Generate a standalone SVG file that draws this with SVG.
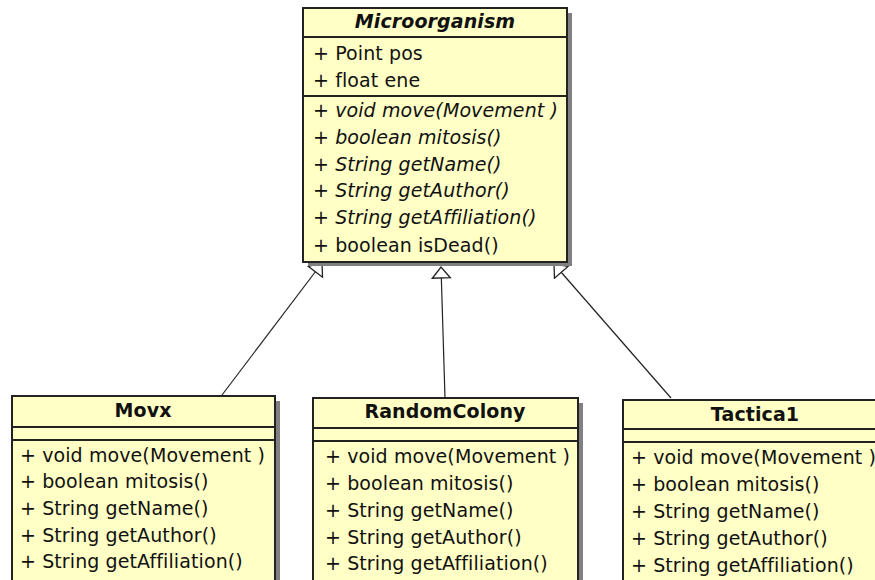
<svg xmlns="http://www.w3.org/2000/svg" width="875" height="580" viewBox="0 0 875 580">
<style>
.box{fill:#FFFFC6;stroke:#222;stroke-width:2}
.sh{fill:#808080}
.div{stroke:#222;stroke-width:2}
text{font-family:"DejaVu Sans","Liberation Sans",sans-serif;font-size:19px;letter-spacing:0.1px;fill:#111}
.t{font-weight:bold;text-anchor:middle}
.it{font-style:italic}
.conn{stroke:#222;stroke-width:1.2;fill:none}
</style>
<defs>
<marker id="gen" markerWidth="20" markerHeight="22" refX="12" refY="10" orient="auto" markerUnits="userSpaceOnUse" viewBox="0 0 20 22">
<path d="M1,1 L12,10 L1,19 Z" fill="#fff" stroke="#222" stroke-width="1.3"/>
</marker>
</defs>
<rect width="875" height="580" fill="#fff"/>
<g id="connectors">
<line class="conn" x1="222" y1="395" x2="322" y2="263" marker-end="url(#gen)"/>
<line class="conn" x1="445" y1="398" x2="441" y2="267" marker-end="url(#gen)"/>
<line class="conn" x1="671" y1="398" x2="554" y2="264" marker-end="url(#gen)"/>
</g>
<g id="Microorganism">
<rect class="sh" x="308" y="13" width="264" height="253"/>
<rect class="box" x="303" y="8" width="264" height="254"/>
<line class="div" x1="303" y1="37" x2="567" y2="37"/>
<line class="div" x1="303" y1="96" x2="567" y2="96"/>
<text class="t it" x="435" y="28">Microorganism</text>
<text x="313" y="60">+ Point pos</text>
<text x="313" y="87">+ float ene</text>
<text class="it" x="313" y="117">+ void move(Movement )</text>
<text class="it" x="313" y="144">+ boolean mitosis()</text>
<text class="it" x="313" y="171">+ String getName()</text>
<text class="it" x="313" y="197">+ String getAuthor()</text>
<text class="it" x="313" y="224">+ String getAffiliation()</text>
<text x="313" y="252">+ boolean isDead()</text>
</g>
<g id="Movx">
<rect class="sh" x="17" y="401" width="263" height="200"/>
<rect class="box" x="12" y="396" width="263" height="200"/>
<line class="div" x1="12" y1="427" x2="275" y2="427"/>
<line class="div" x1="12" y1="440" x2="275" y2="440"/>
<text class="t" x="143" y="417">Movx</text>
<text x="20" y="462">+ void move(Movement )</text>
<text x="20" y="488">+ boolean mitosis()</text>
<text x="20" y="515">+ String getName()</text>
<text x="20" y="542">+ String getAuthor()</text>
<text x="20" y="568">+ String getAffiliation()</text>
</g>
<g id="RandomColony">
<rect class="sh" x="318" y="403" width="265" height="200"/>
<rect class="box" x="313" y="398" width="265" height="200"/>
<line class="div" x1="313" y1="428" x2="578" y2="428"/>
<line class="div" x1="313" y1="441" x2="578" y2="441"/>
<text class="t" x="445" y="418">RandomColony</text>
<text x="325" y="463">+ void move(Movement )</text>
<text x="325" y="490">+ boolean mitosis()</text>
<text x="325" y="517">+ String getName()</text>
<text x="325" y="544">+ String getAuthor()</text>
<text x="325" y="570">+ String getAffiliation()</text>
</g>
<g id="Tactica1">
<rect class="sh" x="628" y="405" width="265" height="200"/>
<rect class="box" x="623" y="400" width="265" height="200"/>
<line class="div" x1="623" y1="429" x2="888" y2="429"/>
<line class="div" x1="623" y1="442" x2="888" y2="442"/>
<text class="t" x="755" y="421">Tactica1</text>
<text x="631" y="464">+ void move(Movement )</text>
<text x="631" y="491">+ boolean mitosis()</text>
<text x="631" y="518">+ String getName()</text>
<text x="631" y="545">+ String getAuthor()</text>
<text x="631" y="572">+ String getAffiliation()</text>
</g>
</svg>
